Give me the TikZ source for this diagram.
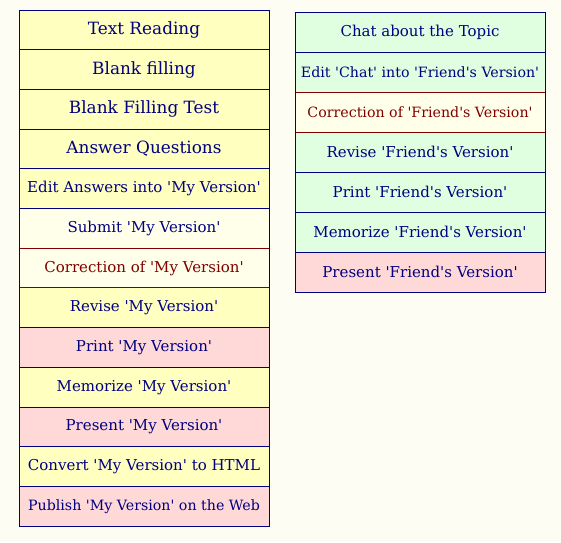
\documentclass[tikz,border=0pt]{standalone}
\usepackage{fontspec}
\setmainfont{DejaVu Serif}
\usetikzlibrary{positioning}
\definecolor{textcolor}{RGB}{0,0,128}
\definecolor{corrcolor}{RGB}{128,0,0}
\definecolor{yellowcolor}{RGB}{255,255,192}
\definecolor{palecolor}{RGB}{255,255,234}
\definecolor{pinkcolor}{RGB}{255,216,216}
\definecolor{greencolor}{RGB}{224,255,224}
\definecolor{pagecolor}{RGB}{253,253,244}
\tikzset{
  %% cell : one row of a column
  cell/.style={
    rectangle,
    draw=textcolor,
    line width=1pt,
    text=textcolor,
    minimum width=250pt,
    minimum height=39.7pt,
    inner sep=0pt,
    outer sep=0pt,
    align=center
  },
  %% big : the larger text of the first rows
  big/.style={font=\fontsize{16.9}{20}\selectfont},
  %% mid : the usual text
  mid/.style={font=\fontsize{15}{18}\selectfont},
  %% small : the longer texts
  small/.style={font=\fontsize{14.2}{17}\selectfont},
  %% yellowcell, palecell, pinkcell, greencell : fills
  yellowcell/.style={cell, fill=yellowcolor},
  palecell/.style={cell, fill=palecolor},
  pinkcell/.style={cell, fill=pinkcolor},
  greencell/.style={cell, fill=greencolor, minimum height=40pt},
  %% corrcell : a correction row
  corrcell/.style={cell, fill=palecolor, text=corrcolor, draw=none},
  %% corrline : border of a correction row
  corrline/.style={corrcolor, line width=1pt},
  %% frame : frame around a column
  frame/.style={textcolor, line width=1pt}
}
\newcommand{\qt}{\textquotesingle}
\begin{document}
\begin{tikzpicture}
  [x=1pt,
  y=-1pt,
  node distance=0pt]

  \fill [pagecolor] (0, 0) rectangle (561, 542);
  \useasboundingbox (0, 0) rectangle (561, 542);

  %% Left column: my version
  \node (reading) [yellowcell, big, anchor=north west] at (19, 10) {%
    Text Reading};
  \node (blank) [below=of reading, yellowcell, big]{%
    Blank filling};
  \node (blanktest) [below=of blank, yellowcell, big]{%
    Blank Filling Test};
  \node (answer) [below=of blanktest, yellowcell, big]{%
    Answer Questions};
  \node (editmy) [below=of answer, yellowcell, mid]{%
    Edit Answers into \qt My Version\qt};
  \node (submitmy) [below=of editmy, palecell, mid]{%
    Submit \qt My Version\qt};
  \node (corrmy) [below=of submitmy, corrcell, mid]{%
    Correction of \qt My Version\qt};
  \node (revisemy) [below=of corrmy, yellowcell, mid]{%
    Revise \qt My Version\qt};
  \node (printmy) [below=of revisemy, pinkcell, mid]{%
    Print \qt My Version\qt};
  \node (memomy) [below=of printmy, yellowcell, mid]{%
    Memorize \qt My Version\qt};
  \node (presentmy) [below=of memomy, pinkcell, mid]{%
    Present \qt My Version\qt};
  \node (convertmy) [below=of presentmy, yellowcell, mid]{%
    Convert \qt My Version\qt{} to HTML};
  \node (publishmy) [below=of convertmy, pinkcell, small]{%
    Publish \qt My Version\qt{} on the Web};

  %% Right column: friend's version
  \node (chat) [greencell, mid, anchor=north west] at (295, 12) {%
    Chat about the Topic};
  \node (editfr) [below=of chat, greencell, small]{%
    Edit \qt Chat\qt{} into \qt Friend\qt s Version\qt};
  \node (corrfr) [below=of editfr, corrcell, small, minimum height=40pt]{%
    Correction of \qt Friend\qt s Version\qt};
  \node (revisefr) [below=of corrfr, greencell, mid]{%
    Revise \qt Friend\qt s Version\qt};
  \node (printfr) [below=of revisefr, greencell, mid]{%
    Print \qt Friend\qt s Version\qt};
  \node (memofr) [below=of printfr, greencell, mid]{%
    Memorize \qt Friend\qt s Version\qt};
  \node (presentfr) [below=of memofr, pinkcell, mid, minimum height=40pt]{%
    Present \qt Friend\qt s Version\qt};

  %% Correction rows
  \draw [corrline] (corrmy.north west) rectangle (corrmy.south east);
  \draw [corrline] (corrfr.north west) rectangle (corrfr.south east);

  %% Frames around columns
  \draw [frame] (reading.north west) rectangle (publishmy.south east);
  \draw [frame] (chat.north west) rectangle (presentfr.south east);

\end{tikzpicture}
\end{document}
